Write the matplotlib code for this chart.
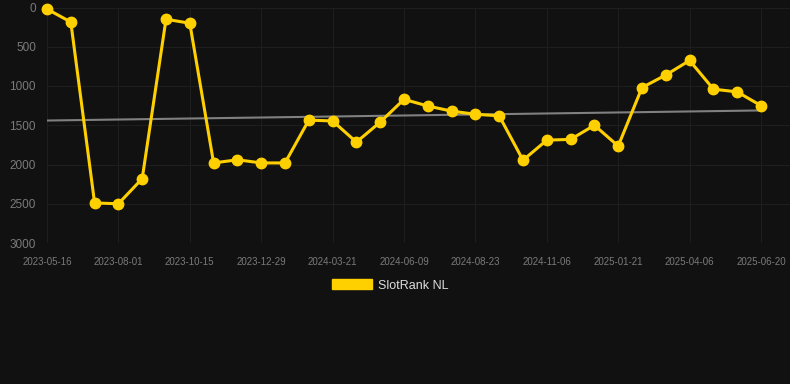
import matplotlib
matplotlib.use("Agg")
import matplotlib.pyplot as plt
from matplotlib.patches import Patch
import numpy as np

plt.rcParams['font.family'] = ['Liberation Sans', 'DejaVu Sans']

tick_labels = ["2023-05-16", "2023-08-01", "2023-10-15", "2023-12-29", "2024-03-21",
               "2024-06-09", "2024-08-23", "2024-11-06", "2025-01-21", "2025-04-06",
               "2025-06-20"]
rank_values = [20, 185, 2490, 2500, 2180, 150, 200, 1980, 1940, 1980, 1980,
               1435, 1445, 1715, 1460, 1170, 1255, 1320, 1360, 1380, 1945,
               1690, 1680, 1500, 1765, 1020, 860, 675, 1040, 1075, 1250]
series_name = "SlotRank NL"

bg = "#111111"
gold = "#FFD000"

fig = plt.figure(figsize=(7.9, 3.84), dpi=100, facecolor=bg)
ax = fig.add_axes([47/790, 1-243/384, 743/790, (243-7.5)/384], facecolor=bg)

x = np.arange(len(rank_values))
y = np.array(rank_values, dtype=float)

coef = np.polyfit(x, y, 1)
ax.plot(x, np.polyval(coef, x), color="#808080", lw=1.5, zorder=2)

ax.plot(x, y, color=gold, lw=2.2, marker="o", ms=7.5, mec=gold, mfc=gold, zorder=3,
        clip_on=False)

ax.set_ylim(3000, 0)
ax.set_yticks([0, 500, 1000, 1500, 2000, 2500, 3000])
ax.set_xlim(0, 30 + 29/23.8)
ax.set_xticks(x[::3])
ax.set_xticklabels(tick_labels)

ax.grid(True, color="#1e1e1e", lw=0.8)
ax.set_axisbelow(True)
for s in ax.spines.values():
    s.set_visible(False)
ax.tick_params(axis='x', length=0, pad=10, labelsize=7, labelcolor="#7a7a7a")
ax.tick_params(axis='y', length=0, pad=8, labelsize=8.5, labelcolor="#7a7a7a")

handle = Patch(facecolor=gold, edgecolor=gold)
leg = fig.legend([handle], [series_name], loc="center", bbox_to_anchor=(390/790, 1-285.5/384),
                 frameon=False, fontsize=9, handlelength=3.2, handleheight=0.8,
                 handletextpad=0.5, labelcolor="#dddddd")

fig.savefig("out.png", dpi=100, facecolor=bg)
